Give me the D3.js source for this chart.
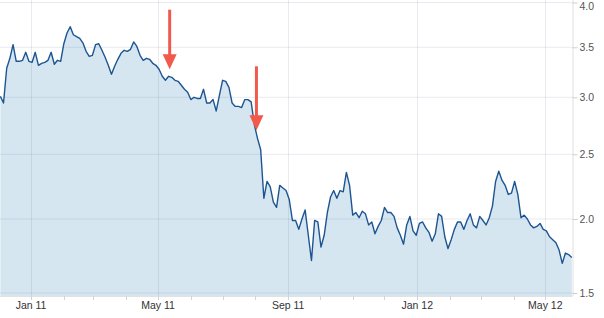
<!DOCTYPE html>
<html>
<head>
<meta charset="utf-8">
<script src="https://cdn.jsdelivr.net/npm/d3@7"></script>
<style>
body { margin: 0; background: #fff; }
svg { display: block; font-family: "Liberation Sans", Arial, sans-serif; }
</style>
</head>
<body>
<svg width="604" height="318"></svg>
<script>
const width = 604, height = 318;
const plotLeft = 0, plotRight = 572.5, plotTop = 2.5, plotBottom = 296;
const svg = d3.select("svg");

// closing price, one reading every 3 days from 3 Dec 2010
const startDate = new Date(2010, 11, 3);
const stepDays = 3;
const prices = [
  3.01, 2.95, 3.29, 3.39, 3.53, 3.36, 3.36, 3.37, 3.45, 3.36,
  3.35, 3.45, 3.32, 3.34, 3.35, 3.37, 3.45, 3.33, 3.37, 3.36,
  3.54, 3.66, 3.73, 3.64, 3.62, 3.60, 3.55, 3.46, 3.41, 3.42,
  3.53, 3.54, 3.47, 3.40, 3.32, 3.23, 3.31, 3.38, 3.44, 3.47,
  3.46, 3.48, 3.56, 3.51, 3.42, 3.37, 3.39, 3.38, 3.34, 3.32,
  3.28, 3.21, 3.17, 3.21, 3.20, 3.17, 3.16, 3.12, 3.08, 3.05,
  2.98, 3.00, 2.99, 2.99, 3.08, 2.95, 2.95, 2.98, 2.88, 3.02,
  3.17, 3.16, 3.10, 2.95, 2.92, 2.92, 2.91, 2.98, 2.98, 2.96,
  2.76, 2.64, 2.54, 2.16, 2.29, 2.25, 2.13, 2.09, 2.26, 2.24,
  2.22, 2.15, 1.99, 1.99, 1.93, 2.00, 2.07, 1.89, 1.72, 1.99,
  1.98, 1.81, 1.89, 2.05, 2.17, 2.22, 2.16, 2.22, 2.21, 2.36,
  2.26, 2.03, 2.05, 2.01, 2.06, 2.04, 1.96, 1.98, 1.90, 1.95,
  1.99, 2.09, 2.05, 2.05, 2.02, 1.94, 1.89, 1.83, 1.96, 2.02,
  1.92, 1.89, 1.97, 1.98, 1.94, 1.91, 1.85, 1.90, 2.04, 2.02,
  1.88, 1.80, 1.86, 1.93, 1.98, 1.98, 1.93, 1.99, 2.04, 1.96,
  1.94, 2.02, 1.99, 1.96, 2.01, 2.10, 2.29, 2.37, 2.30, 2.26,
  2.19, 2.20, 2.29, 2.19, 2.01, 2.03, 2.00, 1.96, 1.94, 1.95,
  1.97, 1.93, 1.92, 1.88, 1.86, 1.84, 1.79, 1.70, 1.77, 1.76,
  1.74
];
const yTicks = [1.5, 2.0, 2.5, 3.0, 3.5, 4.0];

// red arrows: date pointed at, value at the tail and at the tip
const arrows = [
  { date: "2011-05-12", from: 3.92, to: 3.28 },
  { date: "2011-08-02", from: 3.31, to: 2.71 }
];

const parseDate = d3.timeParse("%Y-%m-%d");
const data = prices.map((v, i) => ({ date: d3.timeDay.offset(startDate, i * stepDays), value: v }));

const xScale = d3.scaleTime()
  .domain([new Date(2010, 11, 2, 16), new Date(2012, 4, 26, 16)])
  .range([plotLeft, plotRight]);

// the price axis is compressed towards the top, so map it piece by piece
const yScale = d3.scaleLinear()
  .domain(yTicks)
  .range([293, 219, 154.3, 97.3, 47.3, plotTop]);

// area
const area = d3.area()
  .x(d => xScale(d.date))
  .y0(plotBottom)
  .y1(d => yScale(d.value));

svg.append("path")
  .datum(data)
  .attr("fill", "#d6e6f1")
  .attr("d", area);

// grid
const majorTicks = xScale.ticks(d3.timeMonth.every(4));
const minorTicks = xScale.ticks(d3.timeMonth.every(1));

svg.append("g")
  .selectAll("line")
  .data(yTicks)
  .join("line")
  .attr("x1", plotLeft)
  .attr("x2", plotRight)
  .attr("y1", d => yScale(d))
  .attr("y2", d => yScale(d))
  .attr("stroke", "#1a3c6e")
  .attr("stroke-opacity", 0.1);

svg.append("g")
  .selectAll("line")
  .data(majorTicks)
  .join("line")
  .attr("x1", d => Math.round(xScale(d)) + 0.5)
  .attr("x2", d => Math.round(xScale(d)) + 0.5)
  .attr("y1", 0)
  .attr("y2", plotBottom)
  .attr("stroke", "#1a3c6e")
  .attr("stroke-opacity", 0.1);

// price line
const line = d3.line()
  .x(d => xScale(d.date))
  .y(d => yScale(d.value));

svg.append("path")
  .datum(data)
  .attr("fill", "none")
  .attr("stroke", "#1c5591")
  .attr("stroke-width", 1.4)
  .attr("stroke-linejoin", "round")
  .attr("d", line);

// x axis
const xAxis = svg.append("g");
xAxis.append("line")
  .attr("x1", plotLeft).attr("x2", plotRight)
  .attr("y1", plotBottom + 0.5).attr("y2", plotBottom + 0.5)
  .attr("stroke", "#e2e2e2");
xAxis.selectAll(".minor")
  .data(minorTicks)
  .join("line")
  .attr("x1", d => Math.round(xScale(d)) + 0.5)
  .attr("x2", d => Math.round(xScale(d)) + 0.5)
  .attr("y1", plotBottom)
  .attr("y2", plotBottom + 4)
  .attr("stroke", "#d4d4d4");
xAxis.selectAll("text")
  .data(majorTicks)
  .join("text")
  .attr("x", d => xScale(d))
  .attr("y", 309)
  .attr("text-anchor", "middle")
  .attr("fill", "#333")
  .style("font-size", "10.5px")
  .text(d3.timeFormat("%b %y"));

// y axis on the right
svg.append("g")
  .attr("transform", `translate(${plotRight}, 0)`)
  .call(d3.axisRight(yScale).tickValues(yTicks).tickFormat(d3.format(".1f")).tickSizeInner(5).tickSizeOuter(0).tickPadding(2))
  .call(g => g.select(".domain").attr("stroke", "#e0e0e0").attr("d", `M0.5,0V${plotBottom}`))
  .call(g => g.selectAll(".tick line").attr("stroke", "#cfcfcf"))
  .call(g => g.selectAll(".tick text")
    .attr("fill", "#555")
    .style("font-size", "10.5px")
    .style("font-family", "'Liberation Sans', Arial, sans-serif")
    .attr("dy", d => d === 4 ? "0.7em" : "0.32em"));

// annotation arrows
const arrowG = svg.append("g").attr("fill", "#f2594d").attr("stroke", "#f2594d");
arrows.forEach(a => {
  const x = xScale(parseDate(a.date));
  const yFrom = yScale(a.from), yTip = yScale(a.to);
  const headH = 15, headW = 7;
  arrowG.append("line")
    .attr("x1", x).attr("x2", x)
    .attr("y1", yFrom).attr("y2", yTip - headH + 1)
    .attr("stroke-width", 3);
  arrowG.append("path")
    .attr("stroke", "none")
    .attr("d", `M${x - headW},${yTip - headH}L${x + headW},${yTip - headH}L${x},${yTip}Z`);
});
</script>
</body>
</html>
